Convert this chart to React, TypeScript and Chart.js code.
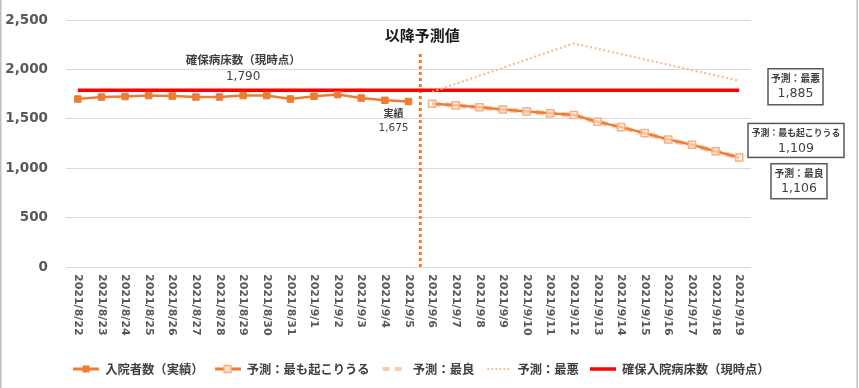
import { useEffect, useRef } from "react";
import { Chart, registerables } from "chart.js";

Chart.register(...registerables);

const dates = [
  "2021/8/22", "2021/8/23", "2021/8/24", "2021/8/25", "2021/8/26", "2021/8/27", "2021/8/28",
  "2021/8/29", "2021/8/30", "2021/8/31", "2021/9/1", "2021/9/2", "2021/9/3", "2021/9/4",
  "2021/9/5", "2021/9/6", "2021/9/7", "2021/9/8", "2021/9/9", "2021/9/10", "2021/9/11",
  "2021/9/12", "2021/9/13", "2021/9/14", "2021/9/15", "2021/9/16", "2021/9/17", "2021/9/18",
  "2021/9/19",
];

// 入院者数（実績） 8/22 - 9/5
const actual = [1700, 1720, 1725, 1735, 1730, 1720, 1720, 1735, 1735, 1700, 1728, 1745, 1710, 1687, 1675];
// 予測 9/6 - 9/19
const mostLikely = [1653, 1636, 1616, 1595, 1575, 1555, 1538, 1470, 1416, 1355, 1290, 1237, 1172, 1109];
const best = [1652, 1634, 1614, 1593, 1573, 1553, 1536, 1468, 1414, 1352, 1287, 1234, 1169, 1106];
const worst = [1771, 1853, 1935, 2017, 2099, 2181, 2263, 2209, 2155, 2101, 2047, 1993, 1939, 1885];
// 確保入院病床数（現時点）
const beds = [
  1790, 1790, 1790, 1790, 1790, 1790, 1790, 1790, 1790, 1790, 1790, 1790, 1790, 1790, 1790,
  1790, 1790, 1790, 1790, 1790, 1790, 1790, 1790, 1790, 1790, 1790, 1790, 1790, 1790,
];

const seriesNames = ["入院者数（実績）", "予測：最も起こりうる", "予測：最良", "予測：最悪", "確保入院病床数（現時点）"];
const yTicks = [0, 500, 1000, 1500, 2000, 2500];

const NUM = '"DejaVu Sans", "Noto Sans CJK JP", sans-serif';
const JP = '"Noto Sans CJK JP", sans-serif';
const ORANGE = "#ED7D31";
const LIGHT_ORANGE = "#F4B183";
const PEACH = "#F8CBAD";
const DOT_PEACH = "#F5BC98";
const RED = "#FF0000";

function fmt(v: number) {
  return v.toLocaleString("en-US");
}

function place(values: number[], start: number, n: number) {
  const out: (number | null)[] = new Array(n).fill(null);
  values.forEach((v, i) => (out[start + i] = v));
  return out;
}

function makeMarker(kind: number): HTMLCanvasElement {
  const c = document.createElement("canvas");
  c.width = 26;
  c.height = 12;
  const g = c.getContext("2d")!;
  const cy = 6;
  g.lineCap = "butt";
  if (kind === 0 || kind === 1) {
    g.strokeStyle = ORANGE;
    g.lineWidth = 3;
    g.beginPath();
    g.moveTo(0, cy);
    g.lineTo(26, cy);
    g.stroke();
    if (kind === 0) {
      g.fillStyle = ORANGE;
      g.fillRect(9.5, cy - 3.5, 7, 7);
    } else {
      g.fillStyle = "#FBE0CC";
      g.fillRect(9.5, cy - 3.5, 7, 7);
      g.strokeStyle = LIGHT_ORANGE;
      g.lineWidth = 1.5;
      g.strokeRect(9.5, cy - 3.5, 7, 7);
    }
  } else if (kind === 2) {
    g.strokeStyle = PEACH;
    g.lineWidth = 4;
    g.setLineDash([7, 5]);
    g.beginPath();
    g.moveTo(2, cy);
    g.lineTo(26, cy);
    g.stroke();
  } else if (kind === 3) {
    g.strokeStyle = DOT_PEACH;
    g.lineWidth = 2;
    g.setLineDash([2, 2]);
    g.beginPath();
    g.moveTo(2, cy);
    g.lineTo(26, cy);
    g.stroke();
  } else {
    g.strokeStyle = RED;
    g.lineWidth = 3.5;
    g.beginPath();
    g.moveTo(0, cy);
    g.lineTo(26, cy);
    g.stroke();
  }
  return c;
}

export default function App() {
  const ref = useRef<HTMLCanvasElement>(null);

  useEffect(() => {
    const canvas = ref.current!;
    const n = dates.length;
    const fStart = actual.length;
    const markers = [0, 1, 2, 3, 4].map(makeMarker);

    const drawBox = (
      ctx: CanvasRenderingContext2D,
      cx: number,
      top: number,
      w: number,
      h: number,
      l1: string,
      l2: string,
      size1: number
    ) => {
      ctx.save();
      ctx.fillStyle = "#ffffff";
      ctx.fillRect(cx - w / 2, top, w, h);
      ctx.strokeStyle = "#595959";
      ctx.lineWidth = 1.5;
      ctx.strokeRect(cx - w / 2, top, w, h);
      ctx.fillStyle = "#404040";
      ctx.textAlign = "center";
      ctx.textBaseline = "middle";
      ctx.font = `bold ${size1}px ${JP}`;
      ctx.fillText(l1, cx, top + 9.5);
      ctx.font = `12.5px ${NUM}`;
      ctx.fillText(l2, cx, top + 25);
      ctx.restore();
    };

    const annot = {
      id: "annot",
      afterLayout(chart: any) {
        const lg = chart.legend;
        if (lg) {
          lg.left = 62;
          lg.right = 859;
        }
      },
      beforeDatasetsDraw(chart: any) {
        const { ctx, chartArea } = chart;
        const x = chart.scales.x;
        const splitX = (x.getPixelForValue(fStart - 1) + x.getPixelForValue(fStart)) / 2;
        ctx.save();
        ctx.strokeStyle = ORANGE;
        ctx.lineWidth = 3;
        ctx.setLineDash([3, 3]);
        ctx.beginPath();
        ctx.moveTo(splitX, 54);
        ctx.lineTo(splitX, chartArea.bottom);
        ctx.stroke();
        ctx.restore();
      },
      afterDraw(chart: any) {
        const { ctx, chartArea } = chart;
        const x = chart.scales.x;
        const y = chart.scales.y;
        ctx.save();
        // frame lines
        ctx.strokeStyle = "#bfbfbf";
        ctx.lineWidth = 1.5;
        ctx.beginPath();
        ctx.moveTo(0.75, 0);
        ctx.lineTo(0.75, 388);
        ctx.moveTo(857.25, 0);
        ctx.lineTo(857.25, 388);
        ctx.stroke();

        // rotated date labels (reading top to bottom)
        ctx.fillStyle = "#595959";
        ctx.font = `bold 11px ${NUM}`;
        ctx.textAlign = "left";
        ctx.textBaseline = "middle";
        dates.forEach((d, i) => {
          const px = x.getPixelForValue(i);
          ctx.save();
          ctx.translate(px, chartArea.bottom + 7);
          ctx.rotate(Math.PI / 2);
          ctx.fillText(d, 0, 0);
          ctx.restore();
        });

        // headline over the split line
        const splitX = (x.getPixelForValue(fStart - 1) + x.getPixelForValue(fStart)) / 2;
        ctx.textAlign = "center";
        ctx.fillStyle = "#1a1a1a";
        ctx.font = `bold 15px ${JP}`;
        ctx.fillText("以降予測値", splitX + 2, 35);

        // beds label
        const yb = y.getPixelForValue(beds[0]);
        ctx.fillStyle = "#404040";
        ctx.font = `bold 11.5px ${JP}`;
        ctx.fillText("確保病床数（現時点）", x.getPixelForValue(7), yb - 31);
        ctx.font = `12px ${NUM}`;
        ctx.fillText(fmt(beds[0]), x.getPixelForValue(7), yb - 13);

        // last actual label
        const last = actual[actual.length - 1];
        const ya = y.getPixelForValue(last);
        const xa = x.getPixelForValue(actual.length - 1) - 15;
        ctx.font = `bold 10px ${JP}`;
        ctx.fillText("実績", xa, ya + 12);
        ctx.font = `10.5px ${NUM}`;
        ctx.fillText(fmt(last), xa, ya + 27);
        ctx.restore();

        // boxes on the right
        const r = chartArea.right;
        drawBox(ctx, r + 44.5, y.getPixelForValue(worst[worst.length - 1]) - 12, 55, 36, "予測：最悪", fmt(worst[worst.length - 1]), 9.8);
        drawBox(ctx, r + 45, y.getPixelForValue(mostLikely[mostLikely.length - 1]) - 34, 96, 34, "予測：最も起こりうる", fmt(mostLikely[mostLikely.length - 1]), 8.9);
        drawBox(ctx, r + 48, y.getPixelForValue(best[best.length - 1]) + 6, 56, 35, "予測：最良", fmt(best[best.length - 1]), 9.8);
      },
    };

    const chart = new Chart(canvas, {
      type: "line",
      data: {
        labels: dates,
        datasets: [
          {
            label: seriesNames[0],
            data: place(actual, 0, n),
            borderColor: ORANGE,
            backgroundColor: ORANGE,
            borderWidth: 2.5,
            pointStyle: "rect",
            pointRadius: 4.6,
            pointBorderWidth: 1,
            pointBackgroundColor: ORANGE,
            pointBorderColor: ORANGE,
            order: 2,
          },
          {
            label: seriesNames[1],
            data: place(mostLikely, fStart, n),
            borderColor: ORANGE,
            backgroundColor: "#FBE0CC",
            borderWidth: 2.5,
            pointStyle: "rect",
            pointRadius: 5,
            pointBorderWidth: 1.5,
            pointBackgroundColor: "rgba(253,236,224,0.6)",
            pointBorderColor: LIGHT_ORANGE,
            order: 1,
          },
          {
            label: seriesNames[2],
            data: place(best, fStart, n),
            borderColor: PEACH,
            borderWidth: 5,
            borderDash: [8, 5],
            pointRadius: 0,
            order: 1.5,
          },
          {
            label: seriesNames[3],
            data: place(worst, fStart, n),
            borderColor: DOT_PEACH,
            borderWidth: 2.2,
            borderDash: [2, 2.5],
            pointRadius: 0,
            order: 3,
          },
          {
            label: seriesNames[4],
            data: beds,
            borderColor: RED,
            borderWidth: 3.5,
            pointRadius: 0,
            order: 4,
          },
        ],
      },
      options: {
        responsive: false,
        animation: false,
        events: [],
        spanGaps: false,
        layout: { padding: { left: 0, right: 108, top: 20, bottom: 2.85 } },
        scales: {
          x: {
            type: "category",
            offset: true,
            grid: { display: false },
            border: { display: false },
            ticks: { display: false },
            afterFit: (s: any) => {
              s.height = 84.85;
            },
          },
          y: {
            min: 0,
            max: 2500,
            afterBuildTicks: (s: any) => {
              s.ticks = yTicks.map((v) => ({ value: v }));
            },
            grid: { color: "#d9d9d9", lineWidth: 1, drawTicks: true, tickLength: 16, tickColor: "rgba(0,0,0,0)" },
            border: { display: false },
            ticks: {
              padding: 2,
              color: "#595959",
              font: { family: NUM, size: 13.5, weight: "bold" },
              callback: (v: any) => fmt(Number(v)),
            },
            afterFit: (s: any) => {
              s.width = 66;
            },
          },
        },
        plugins: {
          tooltip: { enabled: false },
          legend: {
            position: "bottom",
            align: "start",
            labels: {
              usePointStyle: true,
              pointStyleWidth: 26,
              padding: 11,
              color: "#404040",
              font: { family: JP, size: 12.3, weight: "bold" },
              generateLabels: () =>
                seriesNames.map((name, i) => ({
                  text: name,
                  pointStyle: markers[i],
                  datasetIndex: i,
                  hidden: false,
                  lineWidth: 0,
                  fillStyle: "transparent",
                  strokeStyle: "transparent",
                  fontColor: "#404040",
                })),
            },
          },
        },
      },
      plugins: [annot],
    } as any);

    return () => chart.destroy();
  }, []);

  return (
    <div style={{ position: "absolute", left: 0, top: 0, width: 859, height: 388, background: "#ffffff" }}>
      <canvas ref={ref} width={859} height={388} style={{ display: "block" }} />
    </div>
  );
}
